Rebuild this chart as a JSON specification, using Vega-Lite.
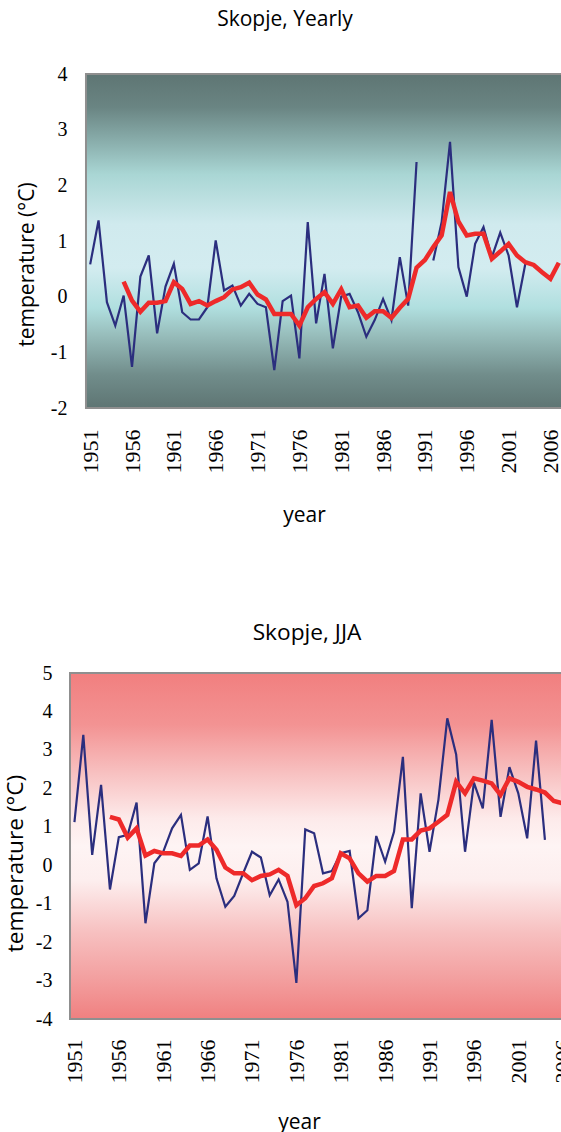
{
  "$schema": "https://vega.github.io/schema/vega-lite/v6.json",
  "padding": {"left": 4, "top": 9, "right": 0, "bottom": 0},
  "background": "white",
  "spacing": 97,
  "config": {
    "view": {"stroke": null},
    "axis": {"labelColor": "black", "titleColor": "black", "grid": false, "ticks": false, "domain": false},
    "title": {"color": "black", "font": "Open Sans", "fontWeight": "normal"}
  },
  "datasets": {
    "yearly": [
      {"year": 1951, "obs": 0.58, "ma": null},
      {"year": 1952, "obs": 1.37, "ma": null},
      {"year": 1953, "obs": -0.10, "ma": null},
      {"year": 1954, "obs": -0.52, "ma": null},
      {"year": 1955, "obs": 0.02, "ma": 0.27},
      {"year": 1956, "obs": -1.26, "ma": -0.07},
      {"year": 1957, "obs": 0.36, "ma": -0.27},
      {"year": 1958, "obs": 0.74, "ma": -0.11},
      {"year": 1959, "obs": -0.66, "ma": -0.11},
      {"year": 1960, "obs": 0.18, "ma": -0.08},
      {"year": 1961, "obs": 0.59, "ma": 0.26},
      {"year": 1962, "obs": -0.28, "ma": 0.14},
      {"year": 1963, "obs": -0.41, "ma": -0.13},
      {"year": 1964, "obs": -0.41, "ma": -0.08},
      {"year": 1965, "obs": -0.19, "ma": -0.16},
      {"year": 1966, "obs": 1.01, "ma": -0.08},
      {"year": 1967, "obs": 0.11, "ma": -0.01},
      {"year": 1968, "obs": 0.20, "ma": 0.13},
      {"year": 1969, "obs": -0.16, "ma": 0.17},
      {"year": 1970, "obs": 0.05, "ma": 0.25},
      {"year": 1971, "obs": -0.13, "ma": 0.04},
      {"year": 1972, "obs": -0.19, "ma": -0.05},
      {"year": 1973, "obs": -1.32, "ma": -0.31},
      {"year": 1974, "obs": -0.08, "ma": -0.31},
      {"year": 1975, "obs": 0.02, "ma": -0.31},
      {"year": 1976, "obs": -1.11, "ma": -0.52},
      {"year": 1977, "obs": 1.34, "ma": -0.19},
      {"year": 1978, "obs": -0.48, "ma": -0.04},
      {"year": 1979, "obs": 0.41, "ma": 0.08},
      {"year": 1980, "obs": -0.93, "ma": -0.13},
      {"year": 1981, "obs": 0.00, "ma": 0.13},
      {"year": 1982, "obs": 0.05, "ma": -0.19},
      {"year": 1983, "obs": -0.28, "ma": -0.16},
      {"year": 1984, "obs": -0.72, "ma": -0.38},
      {"year": 1985, "obs": -0.42, "ma": -0.26},
      {"year": 1986, "obs": -0.04, "ma": -0.26},
      {"year": 1987, "obs": -0.42, "ma": -0.38},
      {"year": 1988, "obs": 0.71, "ma": -0.20},
      {"year": 1989, "obs": -0.16, "ma": -0.04},
      {"year": 1990, "obs": 2.42, "ma": 0.52},
      {"year": 1991, "obs": null, "ma": 0.66},
      {"year": 1992, "obs": 0.65, "ma": 0.89},
      {"year": 1993, "obs": 1.34, "ma": 1.10},
      {"year": 1994, "obs": 2.78, "ma": 1.88},
      {"year": 1995, "obs": 0.53, "ma": 1.35},
      {"year": 1996, "obs": 0.00, "ma": 1.10},
      {"year": 1997, "obs": 0.95, "ma": 1.13},
      {"year": 1998, "obs": 1.25, "ma": 1.13},
      {"year": 1999, "obs": 0.71, "ma": 0.68},
      {"year": 2000, "obs": 1.15, "ma": 0.81},
      {"year": 2001, "obs": 0.74, "ma": 0.95},
      {"year": 2002, "obs": -0.19, "ma": 0.74},
      {"year": 2003, "obs": 0.59, "ma": 0.62},
      {"year": 2004, "obs": null, "ma": 0.57},
      {"year": 2005, "obs": null, "ma": 0.44},
      {"year": 2006, "obs": null, "ma": 0.32},
      {"year": 2007, "obs": null, "ma": 0.61}
    ],
    "jja": [
      {"year": 1951, "obs": 1.12, "ma": null},
      {"year": 1952, "obs": 3.39, "ma": null},
      {"year": 1953, "obs": 0.27, "ma": null},
      {"year": 1954, "obs": 2.09, "ma": null},
      {"year": 1955, "obs": -0.63, "ma": 1.26},
      {"year": 1956, "obs": 0.73, "ma": 1.19},
      {"year": 1957, "obs": 0.79, "ma": 0.72},
      {"year": 1958, "obs": 1.63, "ma": 0.96},
      {"year": 1959, "obs": -1.51, "ma": 0.25},
      {"year": 1960, "obs": 0.05, "ma": 0.37},
      {"year": 1961, "obs": 0.35, "ma": 0.31},
      {"year": 1962, "obs": 0.96, "ma": 0.31},
      {"year": 1963, "obs": 1.31, "ma": 0.24},
      {"year": 1964, "obs": -0.12, "ma": 0.51},
      {"year": 1965, "obs": 0.05, "ma": 0.51},
      {"year": 1966, "obs": 1.27, "ma": 0.67},
      {"year": 1967, "obs": -0.34, "ma": 0.40},
      {"year": 1968, "obs": -1.08, "ma": -0.06},
      {"year": 1969, "obs": -0.80, "ma": -0.21},
      {"year": 1970, "obs": -0.21, "ma": -0.21},
      {"year": 1971, "obs": 0.35, "ma": -0.39},
      {"year": 1972, "obs": 0.20, "ma": -0.28},
      {"year": 1973, "obs": -0.78, "ma": -0.24},
      {"year": 1974, "obs": -0.37, "ma": -0.12},
      {"year": 1975, "obs": -0.95, "ma": -0.28},
      {"year": 1976, "obs": -3.06, "ma": -1.04},
      {"year": 1977, "obs": 0.93, "ma": -0.86},
      {"year": 1978, "obs": 0.83, "ma": -0.54},
      {"year": 1979, "obs": -0.21, "ma": -0.47},
      {"year": 1980, "obs": -0.15, "ma": -0.34},
      {"year": 1981, "obs": 0.31, "ma": 0.31},
      {"year": 1982, "obs": 0.37, "ma": 0.18},
      {"year": 1983, "obs": -1.38, "ma": -0.21},
      {"year": 1984, "obs": -1.17, "ma": -0.43},
      {"year": 1985, "obs": 0.76, "ma": -0.28},
      {"year": 1986, "obs": 0.09, "ma": -0.28},
      {"year": 1987, "obs": 0.87, "ma": -0.15},
      {"year": 1988, "obs": 2.82, "ma": 0.67},
      {"year": 1989, "obs": -1.12, "ma": 0.67},
      {"year": 1990, "obs": 1.87, "ma": 0.90},
      {"year": 1991, "obs": 0.35, "ma": 0.96},
      {"year": 1992, "obs": 1.70, "ma": 1.13},
      {"year": 1993, "obs": 3.82, "ma": 1.31},
      {"year": 1994, "obs": 2.88, "ma": 2.17},
      {"year": 1995, "obs": 0.35, "ma": 1.87},
      {"year": 1996, "obs": 2.15, "ma": 2.26},
      {"year": 1997, "obs": 1.48, "ma": 2.20},
      {"year": 1998, "obs": 3.78, "ma": 2.13},
      {"year": 1999, "obs": 1.26, "ma": 1.83},
      {"year": 2000, "obs": 2.55, "ma": 2.26},
      {"year": 2001, "obs": 1.87, "ma": 2.17},
      {"year": 2002, "obs": 0.70, "ma": 2.04},
      {"year": 2003, "obs": 3.24, "ma": 1.97},
      {"year": 2004, "obs": 0.66, "ma": 1.89},
      {"year": 2005, "obs": null, "ma": 1.67},
      {"year": 2006, "obs": null, "ma": 1.61}
    ]
  },
  "vconcat": [
    {
      "title": {"text": "Skopje, Yearly", "fontSize": 21, "offset": 34, "dx": -31.5, "anchor": "middle", "frame": "group"},
      "width": 493,
      "height": 334,
      "data": {"name": "yearly"},
      "encoding": {
        "x": {"type": "quantitative", "scale": {"domain": [1948.59, 2007.5], "nice": false, "zero": false},
          "axis": {"values": [1951, 1956, 1961, 1966, 1971, 1976, 1981, 1986, 1991, 1996, 2001, 2006], "format": "d",
            "labelAngle": 270, "labelAlign": "right", "labelBaseline": "middle", "labelFont": "Liberation Serif", "labelFontSize": 22,
            "labelPadding": 21, "labelFlush": false, "labelOverlap": false,
            "title": "year", "titleFont": "Open Sans", "titleFontSize": 21, "titleFontWeight": "normal",
            "titleX": 234, "titleY": 113, "titleBaseline": "alphabetic", "titleAlign": "center"}},
        "y": {"type": "quantitative", "scale": {"domain": [-2, 4], "nice": false, "zero": false},
          "axis": {"values": [-2, -1, 0, 1, 2, 3, 4], "labelExpr": "'' + datum.value", "labelFont": "Liberation Serif", "labelFontSize": 20, "labelPadding": 3,
            "title": "temperature (°C)", "titleFont": "Open Sans", "titleFontSize": 21, "titleFontWeight": "normal",
            "titleAngle": 270, "titleBaseline": "bottom", "titleAlign": "center", "titleX": -33, "titleY": 190}}
      },
      "layer": [
        {
          "data": {"values": [{}]},
          "mark": {"type": "rect", "stroke": "#8f8f8f", "strokeWidth": 2,
            "fill": {"gradient": "linear", "x1": 0, "y1": 0, "x2": 0, "y2": 1, "stops": [
              {"offset": 0, "color": "#5e7573"},
              {"offset": 0.1, "color": "#6a8583"},
              {"offset": 0.22, "color": "#8fb5b3"},
              {"offset": 0.3, "color": "#a9d6d4"},
              {"offset": 0.45, "color": "#d0eaee"},
              {"offset": 0.58, "color": "#d3ecf0"},
              {"offset": 0.7, "color": "#b0dfdf"},
              {"offset": 0.78, "color": "#98bebc"},
              {"offset": 0.9, "color": "#718d8b"},
              {"offset": 1, "color": "#5e7573"}
            ]}},
          "encoding": {"x": {"datum": 1950.5}, "x2": {"datum": 2007.5}, "y": {"datum": 4}, "y2": {"datum": -2}}
        },
        {
          "mark": {"type": "line", "color": "#2b2e7e", "strokeWidth": 2.2, "invalid": "break-paths-filter-domains"},
          "encoding": {"x": {"field": "year"}, "y": {"field": "obs"}}
        },
        {
          "mark": {"type": "line", "color": "#ee2a2a", "strokeWidth": 4.5, "invalid": "break-paths-filter-domains"},
          "encoding": {"x": {"field": "year"}, "y": {"field": "ma"}}
        }
      ]
    },
    {
      "title": {"text": "Skopje, JJA", "fontSize": 22.7, "offset": 18, "dx": -16, "anchor": "middle", "frame": "group"},
      "width": 506,
      "height": 346,
      "data": {"name": "jja"},
      "encoding": {
        "x": {"type": "quantitative", "scale": {"domain": [1950.5, 2007.5], "nice": false, "zero": false},
          "axis": {"values": [1951, 1956, 1961, 1966, 1971, 1976, 1981, 1986, 1991, 1996, 2001, 2006], "format": "d",
            "labelAngle": 270, "labelAlign": "right", "labelBaseline": "middle", "labelFont": "Liberation Serif", "labelFontSize": 22,
            "labelPadding": 20, "labelFlush": false, "labelOverlap": false,
            "title": "year", "titleFont": "Open Sans", "titleFontSize": 21, "titleFontWeight": "normal",
            "titleX": 229, "titleY": 109, "titleBaseline": "alphabetic", "titleAlign": "center"}},
        "y": {"type": "quantitative", "scale": {"domain": [-4, 5], "nice": false, "zero": false},
          "axis": {"values": [-4, -3, -2, -1, 0, 1, 2, 3, 4, 5], "labelExpr": "'' + datum.value", "labelFont": "Liberation Serif", "labelFontSize": 20, "labelPadding": 18,
            "title": "temperature (°C)", "titleFont": "Open Sans", "titleFontSize": 22.7, "titleFontWeight": "normal",
            "titleAngle": 270, "titleBaseline": "bottom", "titleAlign": "center", "titleX": -43, "titleY": 190}}
      },
      "layer": [
        {
          "data": {"values": [{}]},
          "mark": {"type": "rect", "stroke": "#8f8f8f", "strokeWidth": 2,
            "fill": {"gradient": "linear", "x1": 0, "y1": 0, "x2": 0, "y2": 1, "stops": [
              {"offset": 0, "color": "#f17f7f"},
              {"offset": 0.15, "color": "#f39393"},
              {"offset": 0.3, "color": "#f8c4c4"},
              {"offset": 0.42, "color": "#fdeaea"},
              {"offset": 0.5, "color": "#fef4f4"},
              {"offset": 0.6, "color": "#fdeeee"},
              {"offset": 0.75, "color": "#f7c0c0"},
              {"offset": 0.88, "color": "#f3a0a0"},
              {"offset": 1, "color": "#f08080"}
            ]}},
          "encoding": {"x": {"datum": 1950.5}, "x2": {"datum": 2007.5}, "y": {"datum": 5}, "y2": {"datum": -4}}
        },
        {
          "mark": {"type": "line", "color": "#2b2e7e", "strokeWidth": 2.2, "invalid": "break-paths-filter-domains"},
          "encoding": {"x": {"field": "year"}, "y": {"field": "obs"}}
        },
        {
          "mark": {"type": "line", "color": "#ee2a2a", "strokeWidth": 4.5, "invalid": "break-paths-filter-domains"},
          "encoding": {"x": {"field": "year"}, "y": {"field": "ma"}}
        }
      ]
    }
  ]
}
